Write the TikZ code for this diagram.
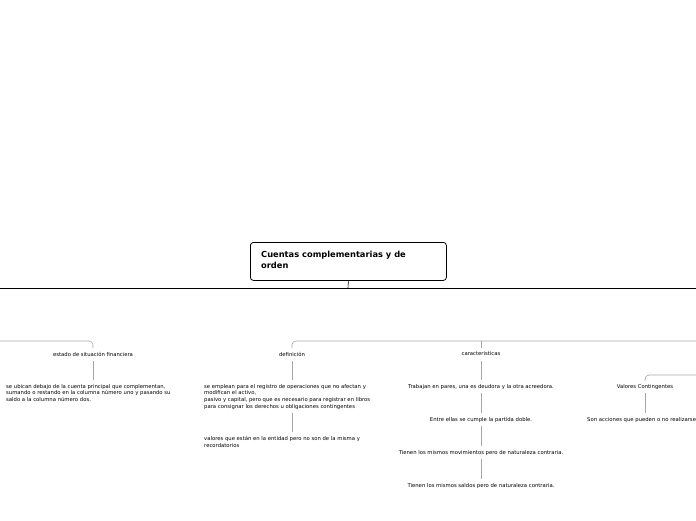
\documentclass[tikz,border=0pt]{standalone}
\usepackage{fontspec}
\setmainfont{DejaVu Sans}
\begin{document}
\begin{tikzpicture}[x=1pt,y=-1pt,
  t/.style={font=\fontsize{5.3}{6.6}\selectfont,inner sep=0pt},
  tl/.style={t,anchor=north west,align=left},
  ln/.style={draw=gray!70,line width=0.6pt},
  main/.style={draw=black,line width=0.8pt,rounded corners=3pt}]
\useasboundingbox (0,0) rectangle (696,520);
\node[main,minimum width=196pt,minimum height=38pt,anchor=north west] (root) at (250,242) {};
\node[anchor=north west,align=left,font=\bfseries\fontsize{8.3}{10.5}\selectfont,inner sep=0pt] (title) at (261,251) {Cuentas complementarias y de\\orden};
\coordinate (h1) at (348,288);
\draw[black,line width=0.6pt] (root.south) -- (h1);
\draw[black,line width=0.6pt] (0,288) -- (696,288);
% level 2
\node[t] (esf) at (93,354) {estado de situación financiera};
\node[t] (def) at (292,354) {definición};
\node[t] (car) at (481,354) {caracteristicas};
\draw[ln,rounded corners=4pt] (0,341) -- (93,341) -- (esf.north|-0,348);
\draw[ln,rounded corners=4pt] (def.north|-0,348) -- (292,341) -- (696,341);
\draw[ln,rounded corners=4pt] (481,341) -- (car.north|-0,348);
% left
\node[tl] (e1) at (6,384) {se ubican debajo de la cuenta principal que complementan,\\sumando o restando en la columna número uno y pasando su\\saldo a la columna número dos.};
\draw[ln] (esf.south|-0,361) -- (93,380);
% definicion
\node[tl] (d1) at (204,384) {se emplean para el registro de operaciones que no afectan y\\modifican el activo,\\pasivo y capital, pero que es necesario para registrar en libros\\para consignar los derechos u obligaciones contingentes};
\node[tl] (d2) at (204,436) {valores que están en la entidad pero no son de la misma y\\recordatorios};
\draw[ln] (292,361) -- (292,380);
\draw[ln] (292,413) -- (292,432);
% caracteristicas
\node[t] (c1) at (481,387) {Trabajan en pares, una es deudora y la otra acreedora.};
\node[t] (c2) at (481,420) {Entre ellas se cumple la partida doble.};
\node[t] (c3) at (481,453) {Tienen los mismos movimientos pero de naturaleza contraria.};
\node[t] (c4) at (481,486) {Tienen los mismos saldos pero de naturaleza contraria.};
\draw[ln] (481,361) -- (481,380);
\draw[ln] (481,393) -- (481,413);
\draw[ln] (481,426) -- (481,446);
\draw[ln] (481,459) -- (481,479);
% valores
\node[t] (v) at (645,387) {Valores Contingentes};
\node[t,anchor=west] (v1) at (587,420) {Son acciones que pueden o no realizarse};
\draw[ln,rounded corners=4pt] (645,381) -- (645,375) -- (696,375);
\draw[ln] (645,393) -- (645,413);
\end{tikzpicture}
\end{document}
